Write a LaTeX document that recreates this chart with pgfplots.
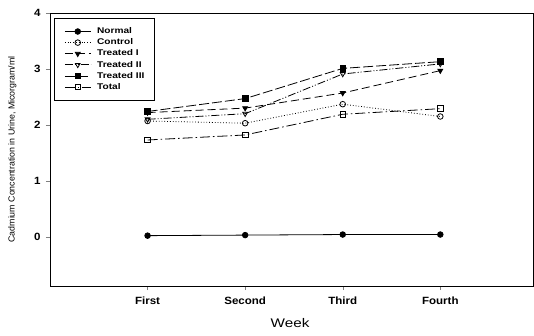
\documentclass[border=0pt]{standalone}
\usepackage{fontspec}
\setmainfont{Liberation Sans}
\newfontfamily\widefont[FakeStretch=1.22]{Liberation Sans}
\newfontfamily\tickfont[FakeStretch=1.1]{Liberation Sans}
\usepackage{pgfplots}
\pgfplotsset{compat=1.18}
\begin{document}
\begin{tikzpicture}
\useasboundingbox (-50pt,-49pt) rectangle (484pt,286pt);
\begin{axis}[
  at={(0pt,0pt)}, anchor=south west,
  scale only axis, width=483pt, height=273pt,
  xmin=0, xmax=4.95, ymin=-0.88, ymax=4,
  xtick={1,2,3,4}, xticklabels={First,Second,Third,Fourth},
  ytick={0,1,2,3,4},
  tick align=outside, tick pos=left,
  major tick length=4pt,
  /pgf/number format/assume math mode=true,
  ticklabel style={font=\tickfont\fontsize{10.5}{11}\selectfont\bfseries},
  xticklabel style={yshift=-3pt},
  yticklabel style={xshift=-2pt},
  xlabel={Week}, xlabel style={font=\widefont\fontsize{12.5}{13}\selectfont, at={(axis description cs:0.497,-0.135)}, anchor=center},
  ylabel={Cadmium Concentration in Urine, Micorgram/ml},
  ylabel style={font=\fontsize{8.8}{9}\selectfont, at={(axis description cs:-0.078,0.50)}, anchor=center},
  axis line style={black, line width=0.8pt},
  legend style={at={(axis description cs:0.0083,0.982)}, anchor=north west, draw=black, line width=0.7pt,
    font=\widefont\fontsize{8.3}{9}\selectfont\bfseries, row sep=3.6pt, column sep=6pt,
    inner xsep=10pt, inner ysep=9.5pt,
    nodes={inner sep=0pt, text height=6pt, text depth=1.5pt}},
  legend cell align=left,
  legend image code/.code={\draw[mark repeat=2,mark phase=2] plot coordinates {(0pt,0pt) (13pt,0pt) (26pt,0pt)};},
  every axis plot/.append style={line width=0.8pt, black, mark size=2.8pt},
]
\addplot[mark=*, mark options={solid,fill=black}] coordinates {(1,0.02) (2,0.03) (3,0.04) (4,0.04)};
\addlegendentry{Normal}
\addplot[mark=o, dotted, mark options={solid, fill=white}] coordinates {(1,2.07) (2,2.03) (3,2.37) (4,2.15)};
\addlegendentry{Control}
\addplot[mark=triangle*, mark options={solid,fill=black,rotate=180}, dash pattern=on 8pt off 4pt] coordinates {(1,2.22) (2,2.30) (3,2.57) (4,2.97)};
\addlegendentry{Treated I}
\addplot[mark=triangle, mark options={solid,rotate=180,fill=white}, dash pattern=on 8pt off 2pt on 1pt off 2pt on 1pt off 2pt] coordinates {(1,2.10) (2,2.20) (3,2.91) (4,3.09)};
\addlegendentry{Treated II}
\addplot[mark=square*, mark options={solid,fill=black}, dash pattern=on 10pt off 3pt] coordinates {(1,2.24) (2,2.47) (3,3.01) (4,3.13)};
\addlegendentry{Treated III}
\addplot[mark=square, mark options={solid,fill=white}, dash pattern=on 10pt off 3pt on 1.5pt off 3pt] coordinates {(1,1.73) (2,1.82) (3,2.19) (4,2.29)};
\addlegendentry{Total}
\end{axis}
\end{tikzpicture}
\end{document}
